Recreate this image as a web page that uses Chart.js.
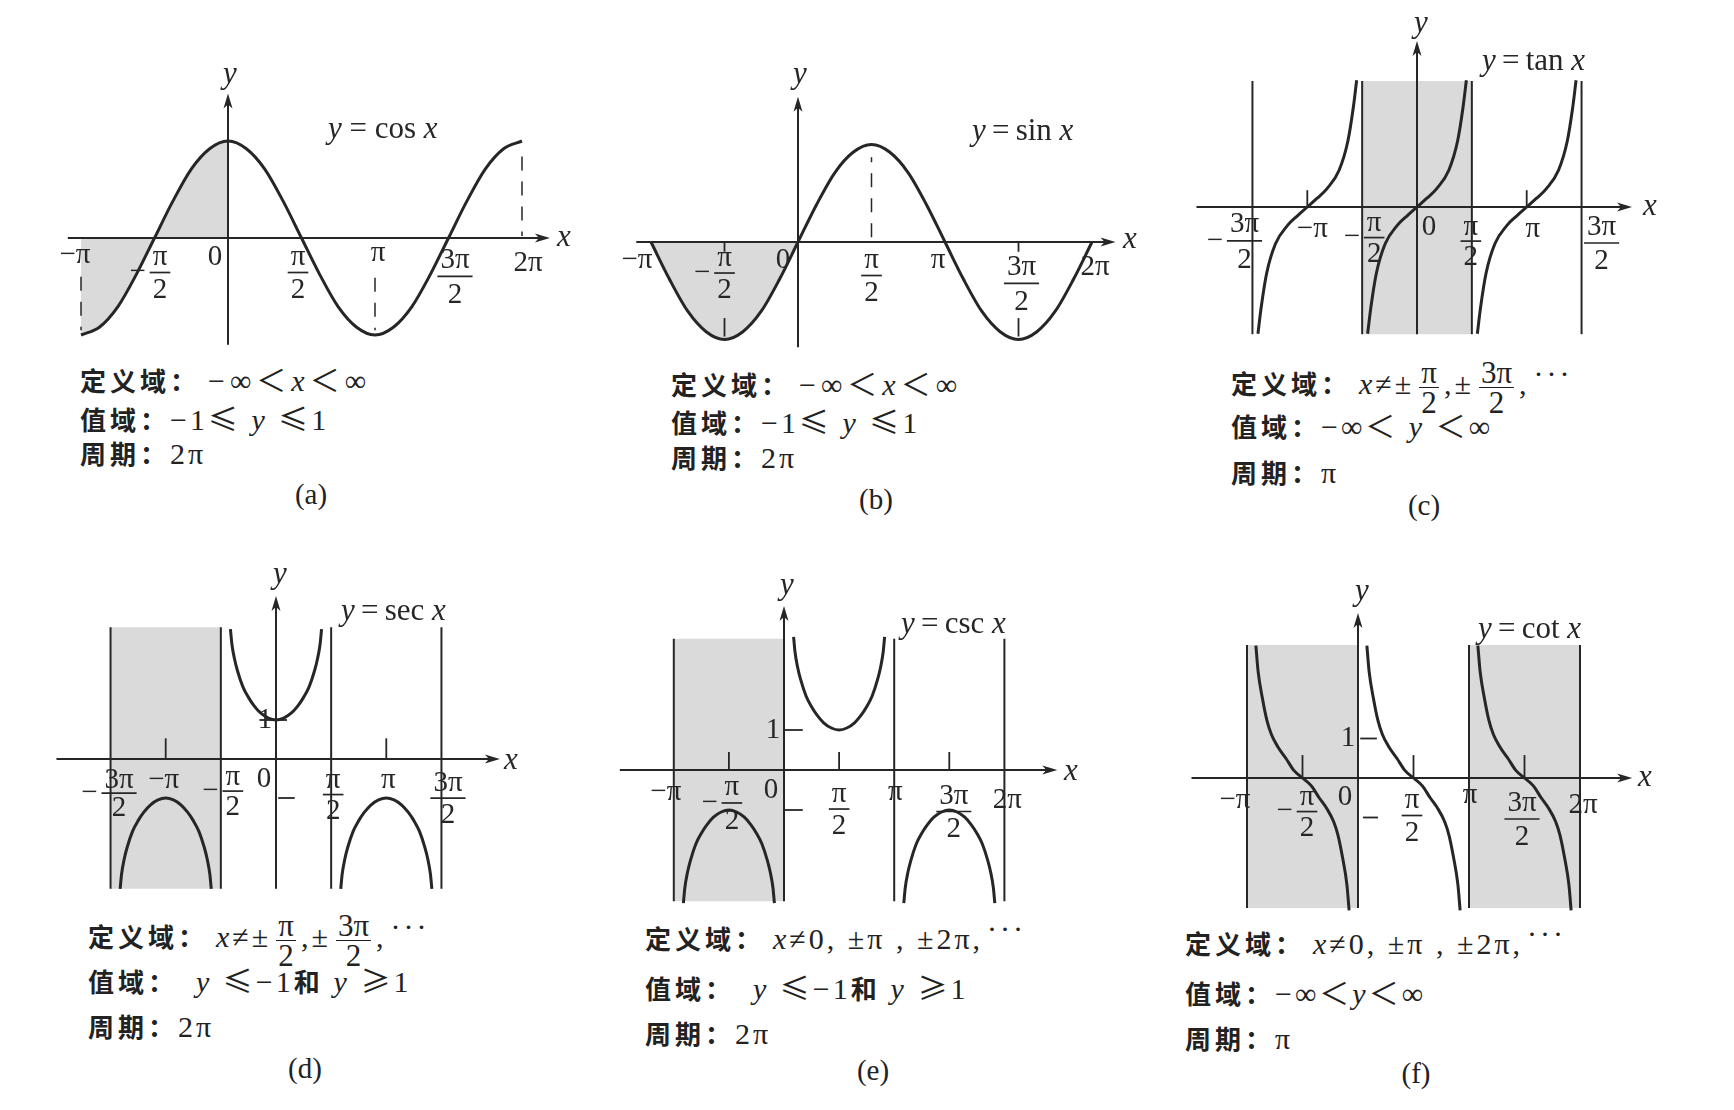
<!DOCTYPE html>
<html lang="zh">
<head>
<meta charset="utf-8">
<title>三角函数图像</title>
<script src="https://cdn.jsdelivr.net/npm/chart.js@4.4.1/dist/chart.umd.min.js"></script>
<style>
  html, body { margin: 0; background: #fff; }
  #page { position: relative; width: 1734px; height: 1110px; overflow: hidden; }
  .box { position: absolute; }
  .ln { position: absolute; white-space: nowrap; font-family: "Noto Sans CJK SC"; font-weight: 700;
        font-size: 26px; letter-spacing: 4px; color: #222; line-height: 36px; }
  .m { font-family: "Liberation Serif"; font-weight: 400; font-size: 30px; letter-spacing: 3px; }
  .m.d { margin-left: 8px; }
  .m.w { letter-spacing: 5px; }
  .s { font-family: "Noto Sans CJK SC"; font-weight: 400; }
  .fr { display: inline-block; vertical-align: middle; text-align: center; line-height: 29px;
        font-size: 31px; margin: 0 5px; letter-spacing: 0; }
  .fr > span { display: block; padding: 0 2px; }
  .fr > span:first-child { border-bottom: 1.6px solid #222; }
  .dots { position: relative; top: -10px; margin-left: 4px; }
  .cap { position: absolute; font-family: "Liberation Serif"; font-size: 29px; color: #222;
         transform: translate(-50%, -50%); }
</style>
</head>
<body>
<div id="page">
  <!-- (a) -->
  <div class="ln" style="left:80px;top:360px">定义域：<span class="m d w">−∞<span class="s">＜</span><i>x</i><span class="s">＜</span>∞</span></div>
  <div class="ln" style="left:80px;top:399px">值域：<span class="m">−1<span class="s">≤</span> <i>y</i> <span class="s">≤</span>1</span></div>
  <div class="ln" style="left:80px;top:435px">周期：<span class="m">2π</span></div>
  <div class="cap" style="left:311px;top:494px">(a)</div>

  <!-- (b) -->
  <div class="ln" style="left:671px;top:364px">定义域：<span class="m d w">−∞<span class="s">＜</span><i>x</i><span class="s">＜</span>∞</span></div>
  <div class="ln" style="left:671px;top:402px">值域：<span class="m">−1<span class="s">≤</span> <i>y</i> <span class="s">≤</span>1</span></div>
  <div class="ln" style="left:671px;top:439px">周期：<span class="m">2π</span></div>
  <div class="cap" style="left:876px;top:499px">(b)</div>

  <!-- (c) -->
  <div class="ln" style="left:1231px;top:358px">定义域：<span class="m d"><i>x</i>≠±<span class="fr"><span>π</span><span>2</span></span>,±<span class="fr"><span>3π</span><span>2</span></span>,<span class="dots">···</span></span></div>
  <div class="ln" style="left:1231px;top:406px">值域：<span class="m">−∞<span class="s">＜</span> <i>y</i> <span class="s">＜</span>∞</span></div>
  <div class="ln" style="left:1231px;top:454px">周期：<span class="m">π</span></div>
  <div class="cap" style="left:1424px;top:505px">(c)</div>

  <!-- (d) -->
  <div class="ln" style="left:88px;top:911px">定义域：<span class="m d"><i>x</i>≠±<span class="fr"><span>π</span><span>2</span></span>,±<span class="fr"><span>3π</span><span>2</span></span>,<span class="dots">···</span></span></div>
  <div class="ln" style="left:88px;top:961px">值域： <span class="m d"><i>y</i> <span class="s">≤</span>−1</span>和 <span class="m"><i>y</i> <span class="s">≥</span>1</span></div>
  <div class="ln" style="left:88px;top:1008px">周期：<span class="m">2π</span></div>
  <div class="cap" style="left:305px;top:1068px">(d)</div>

  <!-- (e) -->
  <div class="ln" style="left:645px;top:920px">定义域：<span class="m d"><i>x</i>≠0, ±π , ±2π,<span class="dots">···</span></span></div>
  <div class="ln" style="left:645px;top:968px">值域： <span class="m d"><i>y</i> <span class="s">≤</span>−1</span>和 <span class="m"><i>y</i> <span class="s">≥</span>1</span></div>
  <div class="ln" style="left:645px;top:1015px">周期：<span class="m">2π</span></div>
  <div class="cap" style="left:873px;top:1070px">(e)</div>

  <!-- (f) -->
  <div class="ln" style="left:1185px;top:925px">定义域：<span class="m d"><i>x</i>≠0, ±π , ±2π,<span class="dots">···</span></span></div>
  <div class="ln" style="left:1185px;top:973px">值域：<span class="m">−∞<span class="s">＜</span><i>y</i><span class="s">＜</span>∞</span></div>
  <div class="ln" style="left:1185px;top:1020px">周期：<span class="m">π</span></div>
  <div class="cap" style="left:1416px;top:1073px">(f)</div>
</div>

<script>
// ============================================================
// Six trig graphs. x values are in multiples of π.
// ============================================================

const waveX = [-1, -0.875, -0.75, -0.625, -0.5, -0.375, -0.25, -0.125, 0, 0.125, 0.25, 0.375, 0.5,
               0.625, 0.75, 0.875, 1, 1.125, 1.25, 1.375, 1.5, 1.625, 1.75, 1.875, 2];
const cosY = [-1, -0.92, -0.71, -0.38, 0, 0.38, 0.71, 0.92, 1, 0.92, 0.71, 0.38, 0,
              -0.38, -0.71, -0.92, -1, -0.92, -0.71, -0.38, 0, 0.38, 0.71, 0.92, 1];
const sinY = [0, -0.38, -0.71, -0.92, -1, -0.92, -0.71, -0.38, 0, 0.38, 0.71, 0.92, 1,
              0.92, 0.71, 0.38, 0, -0.38, -0.71, -0.92, -1, -0.92, -0.71, -0.38, 0];

const tanOffset = [-0.45, -0.42, -0.37, -0.29, -0.18, -0.09, 0, 0.09, 0.18, 0.29, 0.37, 0.42, 0.45];
const tanY = [-3.17, -2.5, -1.65, -0.92, -0.46, -0.22, 0, 0.22, 0.46, 0.92, 1.65, 2.5, 3.17];
const tanCenters = [-1, 0, 1];
const tanAsymptotes = [-1.5, -0.5, 0.5, 1.5];

const secOffset = [-0.413, -0.4, -0.375, -0.35, -0.3, -0.25, -0.2, -0.14, -0.07, 0,
                   0.07, 0.14, 0.2, 0.25, 0.3, 0.35, 0.375, 0.4, 0.413];
const secY = [3.33, 2.95, 2.55, 2.27, 1.85, 1.58, 1.37, 1.18, 1.05, 1,
              1.05, 1.18, 1.37, 1.58, 1.85, 2.27, 2.55, 2.95, 3.33];
const secUpCenters = [0];
const secDownCenters = [-1, 1];
const secAsymptotes = [-1.5, -0.5, 0.5, 1.5];
const cscUpCenters = [0.5];
const cscDownCenters = [-0.5, 1.5];
const cscAsymptotes = [-1, 1, 2];

const cotOffset = [0.08, 0.1, 0.14, 0.18, 0.22, 0.28, 0.35, 0.42, 0.5, 0.58, 0.65, 0.72, 0.78, 0.82, 0.86, 0.9, 0.92];
const cotY = [3.35, 2.7, 2.0, 1.45, 1.1, 0.78, 0.5, 0.2, 0, -0.2, -0.5, -0.78, -1.1, -1.45, -2.0, -2.7, -3.35];
const cotStarts = [-1, 0, 1];
const cotAsymptotes = [-1, 1, 2];

const ticksPi = [-1, -0.5, 0, 0.5, 1, 1.5, 2];
const ticksPiText = ['−π', '−π/2', '0', 'π/2', 'π', '3π/2', '2π'];
const ticksHalf = [-1.5, -1, -0.5, 0, 0.5, 1, 1.5];
const ticksHalfText = ['−3π/2', '−π', '−π/2', '0', 'π/2', 'π', '3π/2'];
const yTickOne = [1];
const yTickOneText = ['1'];

// ------------------------------------------------------------
const INK = '#262626';
const SHADE = '#dadada';

const pts = (xs, ys) => xs.map((x, i) => ({ x, y: ys[i] }));
const curve = (data, extra) => Object.assign({
  data, borderColor: INK, borderWidth: 3, pointRadius: 0, fill: false,
  cubicInterpolationMode: 'monotone', order: 1
}, extra);
const vline = (x, y0, y1, extra) => Object.assign({
  data: [{ x, y: y0 }, { x, y: y1 }], borderColor: INK, borderWidth: 2, pointRadius: 0, fill: false, order: 2
}, extra);
const band = (x0, x1, y0, y1) => ({
  data: [{ x: x0, y: y1 }, { x: x1, y: y1 }], borderWidth: 0, borderColor: 'rgba(0,0,0,0)',
  backgroundColor: SHADE, fill: { value: y0 }, pointRadius: 0, order: 9
});
const branch = (c, offs, ys, sign) => curve(offs.map((o, i) => ({ x: c + o, y: sign * ys[i] })));
const dash = { borderWidth: 1.5, borderDash: [14, 11] };

const zeroIdx = waveX.indexOf(0);

// layout: canvas box (page px), origin (page px), px per π and per unit
const panels = [
  {
    id: 'a', box: [40, 60, 540, 300], origin: [228, 238], unit: [147, 97],
    xAxis: [-1.09, 2.19], yAxis: [-1.1, 1.49],
    datasets: [
      curve(pts(waveX.slice(0, zeroIdx + 1), cosY.slice(0, zeroIdx + 1)),
            { borderWidth: 0, backgroundColor: SHADE, fill: 'origin', order: 9 }),
      curve(pts(waveX, cosY)),
      vline(-1, -0.4, -0.95, dash), vline(1, -0.41, -0.95, dash), vline(2, 0.84, 0.02, dash)
    ],
    ticks: ticksPi, tickText: ticksPiText,
    tickPos: [[-6, 255], [5.5, 257, 33], [-13, 257], [-3.5, 257, 33], [3, 253], [6.5, 260, 35], [6, 263]],
    title: [328, 130, [['y', 1], [' = ', 0], ['cos ', 0], ['x', 1]]],
    xLab: [564, 238], yLab: [230, 75]
  },
  {
    id: 'b', box: [600, 60, 540, 300], origin: [798, 242], unit: [147, 97.5],
    xAxis: [-1.1, 2.16], yAxis: [-1.08, 1.49],
    datasets: [
      curve(pts(waveX.slice(0, zeroIdx + 1), sinY.slice(0, zeroIdx + 1)),
            { borderWidth: 0, backgroundColor: SHADE, fill: 'origin', order: 9 }),
      curve(pts(waveX, sinY)),
      vline(0.5, 0.05, 0.87, dash)
    ],
    vTicks: [[-0.5, 0, -0.1], [1.5, 0, -0.1], [-0.5, -0.78, -0.97], [1.5, -0.78, -0.97]],
    ticks: ticksPi, tickText: ticksPiText,
    tickPos: [[-14, 260], [0, 258, 32], [-15, 260], [0, 260, 33], [-7, 260], [3, 267, 35], [3, 267]],
    title: [972, 132, [['y', 1], ['\u2009=\u2009', 0], ['sin ', 0], ['x', 1]]],
    xLab: [1130, 240], yLab: [800, 75]
  },
  {
    id: 'c', box: [1180, 10, 540, 340], origin: [1417, 207], unit: [109.7, 40],
    xAxis: [-2.01, 1.96], yAxis: [-3.18, 4.15],
    datasets: [
      band(-0.5, 0.5, -3.18, 3.15),
      ...tanAsymptotes.map(a => vline(a, -3.18, 3.15)),
      ...tanCenters.map(c => branch(c, tanOffset, tanY, 1))
    ],
    vTicks: [[-1, 0, 0.42], [1, 0, 0.42]],
    ticks: ticksHalf, tickText: ticksHalfText,
    tickPos: [[-8, 224, 36], [5, 229], [12, 223, 31], [12, 227], [-1, 227, 30], [6, 229], [20, 227, 34]],
    title: [1482, 62, [['y', 1], ['\u2009=\u2009', 0], ['tan ', 0], ['x', 1]]],
    xLab: [1650, 207], yLab: [1421, 24]
  },
  {
    id: 'd', box: [40, 560, 520, 350], origin: [276, 759], unit: [110.3, 39],
    xAxis: [-1.99, 2.03], yAxis: [-3.33, 4.18],
    datasets: [
      band(-1.5, -0.5, -3.33, 3.38),
      ...secAsymptotes.map(a => vline(a, -3.33, 3.38)),
      ...secUpCenters.map(c => branch(c, secOffset, secY, 1)),
      ...secDownCenters.map(c => branch(c, secOffset, secY, -1))
    ],
    vTicks: [[-1, 0, 0.53], [1, 0, 0.53]],
    hTicks: [[1, -0.15, 0.1], [-1, 0.02, 0.17]],
    ticks: ticksHalf, tickText: ticksHalfText,
    tickPos: [[8.5, 780, 28], [-2, 780], [12, 777, 30], [-12, 779], [2, 780, 31], [2, 780], [6.5, 783, 32]],
    yTicks: yTickOne, yTickText: yTickOneText, yTickPos: [[265, 720]],
    title: [341, 612, [['y', 1], ['\u2009=\u2009', 0], ['sec ', 0], ['x', 1]]],
    xLab: [511, 761], yLab: [280, 575]
  },
  {
    id: 'e', box: [600, 560, 540, 350], origin: [784, 770], unit: [110.2, 40],
    xAxis: [-1.49, 2.48], yAxis: [-3.28, 4.1],
    datasets: [
      band(-1, 0, -3.28, 3.28),
      ...cscAsymptotes.map(a => vline(a, -3.28, 3.28)),
      ...cscUpCenters.map(c => branch(c, secOffset, secY, 1)),
      ...cscDownCenters.map(c => branch(c, secOffset, secY, -1))
    ],
    vTicks: [[-0.5, 0, 0.45], [0.5, 0, 0.45], [1.5, 0, 0.45]],
    hTicks: [[1, 0, 0.17], [-1, 0, 0.17]],
    ticks: ticksPi, tickText: ticksPiText,
    tickPos: [[-8, 792], [3, 787, 34], [-13, 790], [0, 794, 32], [1, 792], [4.5, 796, 33], [3, 800]],
    yTicks: yTickOne, yTickText: yTickOneText, yTickPos: [[773, 730]],
    title: [901, 625, [['y', 1], ['\u2009=\u2009', 0], ['csc ', 0], ['x', 1]]],
    xLab: [1071, 772], yLab: [787, 586]
  },
  {
    id: 'f', box: [1170, 560, 540, 360], origin: [1358, 778], unit: [111, 39.5],
    xAxis: [-1.5, 2.47], yAxis: [-3.29, 4.18],
    datasets: [
      band(-1, 0, -3.29, 3.37),
      band(1, 2, -3.29, 3.37),
      ...cotAsymptotes.map(a => vline(a, -3.29, 3.37)),
      ...cotStarts.map(c => branch(c, cotOffset, cotY, 1))
    ],
    vTicks: [[-0.5, 0, 0.58], [0.5, 0, 0.58], [1.5, 0, 0.58]],
    hTicks: [[1, 0.02, 0.17], [-1, 0.045, 0.18]],
    ticks: ticksPi, tickText: ticksPiText,
    tickPos: [[-12, 800], [4.5, 797, 31], [-13, 797], [-1.5, 800, 33], [1, 795], [-2.5, 803, 34], [3, 805]],
    yTicks: yTickOne, yTickText: yTickOneText, yTickPos: [[1348, 738]],
    title: [1478, 630, [['y', 1], ['\u2009=\u2009', 0], ['cot ', 0], ['x', 1]]],
    xLab: [1645, 778], yLab: [1362, 592]
  }
];

function seg(ctx, x0, y0, x1, y1) {
  ctx.beginPath(); ctx.moveTo(x0, y0); ctx.lineTo(x1, y1); ctx.stroke();
}

function arrow(ctx, x, y, dir) {
  ctx.beginPath();
  if (dir === 'r') { ctx.moveTo(x, y); ctx.lineTo(x - 15, y - 4.5); ctx.lineTo(x - 11, y); ctx.lineTo(x - 15, y + 4.5); }
  else { ctx.moveTo(x, y); ctx.lineTo(x - 4.5, y + 15); ctx.lineTo(x, y + 11); ctx.lineTo(x + 4.5, y + 15); }
  ctx.closePath(); ctx.fill();
}

function serif(size, italic) {
  return (italic ? 'italic ' : '') + size + 'px "Liberation Serif", "DejaVu Serif", serif';
}

function drawTick(ctx, text, x, y, gap) {
  ctx.font = serif(29);
  if (text.includes('/')) {
    const neg = text[0] === '−';
    const [n, d] = (neg ? text.slice(1) : text).split('/');
    const w = ctx.measureText(n).width + 6;
    const barY = y + gap * 0.47;
    ctx.fillText(n, x, y);
    ctx.fillText(d, x, y + gap);
    ctx.lineWidth = 1.7;
    seg(ctx, x - w / 2, barY, x + w / 2, barY);
    if (neg) ctx.fillText('−', x - w / 2 - 12, barY);
  } else {
    ctx.fillText(text, x, y);
  }
}

function decor(p) {
  return {
    id: 'decor',
    afterDatasetsDraw(chart) {
      const ctx = chart.ctx, sx = chart.scales.x, sy = chart.scales.y;
      const X = v => sx.getPixelForValue(v), Y = v => sy.getPixelForValue(v);
      const L = p.box[0], T = p.box[1];
      ctx.save();
      ctx.strokeStyle = INK; ctx.fillStyle = INK;

      // axes with arrows
      ctx.lineWidth = 2;
      seg(ctx, X(p.xAxis[0]), Y(0), X(p.xAxis[1]) - 10, Y(0));
      seg(ctx, X(0), Y(p.yAxis[0]), X(0), Y(p.yAxis[1]) + 10);
      arrow(ctx, X(p.xAxis[1]), Y(0), 'r');
      arrow(ctx, X(0), Y(p.yAxis[1]), 'u');

      ctx.lineWidth = 1.8;
      (p.vTicks || []).forEach(([v, a, b]) => seg(ctx, X(v), Y(a), X(v), Y(b)));
      (p.hTicks || []).forEach(([v, a, b]) => seg(ctx, X(a), Y(v), X(b), Y(v)));

      // tick labels
      ctx.textAlign = 'center'; ctx.textBaseline = 'middle';
      p.ticks.forEach((v, i) => {
        const [dx, y, gap] = p.tickPos[i];
        drawTick(ctx, p.tickText[i], X(v) + dx, y - T, gap || 33);
      });
      (p.yTicks || []).forEach((v, i) => {
        ctx.font = serif(29);
        ctx.fillText(p.yTickText[i], p.yTickPos[i][0] - L, p.yTickPos[i][1] - T);
      });

      // axis letters
      ctx.font = serif(31, true);
      ctx.fillText('x', p.xLab[0] - L, p.xLab[1] - T);
      ctx.fillText('y', p.yLab[0] - L, p.yLab[1] - T);

      // function name
      ctx.textAlign = 'left';
      let cx = p.title[0] - L;
      p.title[2].forEach(([t, it]) => {
        ctx.font = serif(31, it);
        ctx.fillText(t, cx, p.title[1] - T);
        cx += ctx.measureText(t).width;
      });
      ctx.restore();
    }
  };
}

function buildPanel(p) {
  const [left, top, w, h] = p.box;
  const [ox, oy] = p.origin;
  const [ux, uy] = p.unit;
  const holder = document.createElement('div');
  holder.className = 'box';
  holder.style.left = left + 'px';
  holder.style.top = top + 'px';
  const canvas = document.createElement('canvas');
  canvas.width = w; canvas.height = h;
  canvas.style.width = w + 'px'; canvas.style.height = h + 'px';
  holder.appendChild(canvas);
  document.getElementById('page').appendChild(holder);

  new Chart(canvas, {
    type: 'line',
    data: { datasets: p.datasets },
    options: {
      responsive: false,
      animation: false,
      events: [],
      layout: { padding: 0 },
      plugins: { legend: { display: false }, tooltip: { enabled: false } },
      scales: {
        x: { type: 'linear', display: false, min: (left - ox) / ux, max: (left + w - ox) / ux },
        y: { type: 'linear', display: false, min: (oy - top - h) / uy, max: (oy - top) / uy }
      }
    },
    plugins: [decor(p)]
  });
}

panels.forEach(buildPanel);
</script>
</body>
</html>
